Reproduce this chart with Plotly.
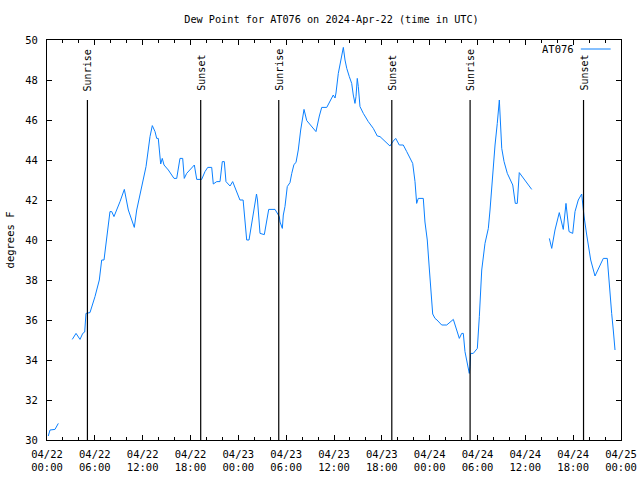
import plotly.graph_objects as go
from datetime import datetime, timedelta

START = datetime(2024, 4, 22, 0, 0)

# hours after 2024-04-22 00:00 UTC (None = gap in the record)
hours = [
    0.16, 0.38, 1.0, 1.42, None,
    3.17, 3.64, 4.14, 4.48, 4.73, 4.89, 5.39, 6.02, 6.56, 6.86, 7.15, 7.49, 7.9, 8.12, 8.4,
    9.16, 9.7, 10.2, 10.95, 11.25, 11.88, 12.42, 12.92, 13.21, 13.55, 13.76, 13.96, 14.26,
    14.46, 14.68, 15.22, 15.93, 16.27, 16.68, 17.02, 17.22, 17.52, 18.48, 18.78, 19.4,
    19.82, 20.16, 20.66, 20.86, 21.29, 21.7, 21.99, 22.24, 22.45, 22.96, 23.29, 23.8,
    24.2, 24.6, 24.84, 25.05, 25.34, 25.55, 25.88, 26.28, 26.4, 26.72, 27.26, 27.56,
    27.81, 28.6, 28.81, 29.14, 29.23, 29.52, 29.64, 29.85, 30.14, 30.48, 30.7, 30.98,
    31.23, 31.52, 31.82, 32.24, 32.58, 33.2, 33.74, 34.16, 34.46, 35.09, 35.5, 35.91,
    36.13, 36.25, 36.54, 36.97, 37.17, 37.38, 37.6, 37.92, 38.22, 38.42, 38.63, 38.76,
    38.92, 39.05, 39.26, 39.68, 40.3, 40.93, 41.43, 41.77, 42.4, 43.02, 43.44, 43.74,
    44.19, 44.69, 45.12, 45.87, 46.16, 46.37, 46.57, 47.2, 47.41, 47.7, 47.95, 48.17,
    48.38, 48.67, 48.92, 49.51, 50.14, 50.97, 51.31, 51.72, 52.02, 52.22, 52.43, 52.77,
    52.97, 53.06, 53.14, 53.47, 53.98, 54.23, 54.53, 54.94, 55.36, 55.57, 55.91, 56.2,
    56.48, 56.61, 56.74, 57.04, 57.33, 57.74, 58.42, 58.74, 58.99, 59.24, 59.75, 60.8,
    None,
    63.01, 63.31, 63.72, 64.26, 64.76, 65.1, 65.48, 65.94, 66.23, 66.64, 67.07, 67.2,
    67.36, 67.7, 68.2, 68.74, 69.37, 69.78, 70.28, 70.53, 70.83, 71.03, 71.25,
]

dew_point_f = [
    30.2, 30.5, 30.53, 30.83, None,
    35.03, 35.33, 35.03, 35.33, 35.4, 36.33, 36.37, 37.17, 38.0, 39.0, 39.0, 40.17, 41.42, 41.42, 41.17,
    41.92, 42.53, 41.5, 40.63, 41.5, 42.67, 43.67, 45.17, 45.72, 45.42, 45.08, 45.08, 43.8,
    44.08, 43.75, 43.5, 43.08, 43.08, 44.08, 44.08, 43.08, 43.33, 43.75, 43.03, 43.03,
    43.42, 43.63, 43.63, 42.8, 42.92, 42.92, 43.92, 43.92, 42.92, 42.7, 42.92, 42.37,
    42.0, 42.0, 40.67, 40.0, 40.0, 40.5, 41.5, 42.3, 42.0, 40.33, 40.27, 41.0,
    41.53, 41.53, 41.37, 41.17, 40.9, 40.58, 41.25, 41.67, 42.67, 42.87, 43.33, 43.78,
    43.87, 44.5, 45.5, 46.53, 45.97, 45.67, 45.42, 46.2, 46.63, 46.63, 46.92, 47.25,
    47.1, 47.35, 48.33, 49.17, 49.63, 49.0, 48.58, 48.17, 47.83, 47.25, 46.83, 47.17,
    48.08, 47.67, 46.67, 46.33, 45.92, 45.58, 45.2, 45.17, 44.92, 44.7, 44.95, 45.08,
    44.75, 44.75, 44.42, 43.83, 42.92, 41.83, 42.08, 42.08, 40.9, 40.0, 38.6, 37.17,
    36.3, 36.08, 36.0, 35.75, 35.75, 36.03, 35.58, 35.08, 35.33, 35.33, 34.42, 33.67,
    33.33, 33.67, 34.33, 34.33, 34.58, 36.17, 38.5, 39.83, 40.58, 41.5, 43.33, 44.75,
    45.83, 46.67, 47.0, 44.58, 43.92, 43.33, 42.75, 41.83, 41.83, 43.37, 43.08, 42.53,
    None,
    40.08, 39.58, 40.5, 41.37, 40.53, 41.83, 40.42, 40.33, 41.42, 42.0, 42.3, 41.75,
    41.2, 40.25, 39.0, 38.2, 38.75, 39.08, 39.08, 37.67, 36.33, 35.5, 34.5,
]

tick_hours = [0, 6, 12, 18, 24, 30, 36, 42, 48, 54, 60, 66, 72]
tick_labels = [
    "04/22<br>00:00", "04/22<br>06:00", "04/22<br>12:00", "04/22<br>18:00",
    "04/23<br>00:00", "04/23<br>06:00", "04/23<br>12:00", "04/23<br>18:00",
    "04/24<br>00:00", "04/24<br>06:00", "04/24<br>12:00", "04/24<br>18:00",
    "04/25<br>00:00",
]

sun_labels = ["Sunrise", "Sunset", "Sunrise", "Sunset", "Sunrise", "Sunset"]
sun_hours = [5.07, 19.28, 29.07, 43.25, 53.07, 67.3]

station = "AT076"
FONT = "DejaVu Sans Mono"
FS = 10.5
LINE_COLOR = "#0a80ff"


def to_time(h):
    return None if h is None else START + timedelta(hours=h)


times = [to_time(h) for h in hours]

fig = go.Figure()
fig.add_trace(go.Scatter(
    x=times, y=dew_point_f, mode="lines", name=station,
    line=dict(color=LINE_COLOR, width=1), connectgaps=False,
    showlegend=False,
))

for lbl, h in zip(sun_labels, sun_hours):
    t = to_time(h)
    fig.add_shape(type="line", xref="x", yref="y", x0=t, x1=t, y0=30, y1=47,
                  line=dict(color="black", width=1.2))
    fig.add_annotation(x=t, y=47.35, xref="x", yref="y", text=lbl, textangle=-90,
                       showarrow=False, xanchor="center", yanchor="bottom",
                       font=dict(family=FONT, size=10, color="black"))

# legend key (text then line sample, top right)
fig.add_annotation(x=0.922, y=49.55, xref="paper", yref="y", text=station,
                   showarrow=False, xanchor="right", yanchor="middle",
                   font=dict(family=FONT, size=FS, color="black"))
fig.add_shape(type="line", xref="paper", yref="y", x0=0.93, x1=0.982, y0=49.55, y1=49.55,
              line=dict(color=LINE_COLOR, width=1))

fig.update_layout(
    width=640, height=480,
    margin=dict(l=47, r=19, t=40, b=40, autoexpand=False),
    paper_bgcolor="white", plot_bgcolor="white",
    font=dict(family=FONT, size=FS, color="black"),
    title=dict(text="Dew Point for AT076 on 2024-Apr-22 (time in UTC)",
               x=0.518, xanchor="center", y=0.96, yanchor="middle",
               font=dict(family=FONT, size=10.2, color="black")),
    showlegend=False,
)

fig.update_xaxes(
    type="date", automargin=False,
    range=[to_time(0), to_time(72)],
    tickvals=[to_time(h) for h in tick_hours], ticktext=tick_labels,
    ticks="inside", ticklen=5, tickcolor="black", tickwidth=1,
    minor=dict(dtick=2 * 3600 * 1000, ticks="inside", ticklen=3, tickcolor="black"),
    showline=True, linecolor="black", linewidth=1, mirror="ticks",
    showgrid=False, zeroline=False,
    tickfont=dict(family=FONT, size=FS),
    ticklabelstandoff=4,
)
fig.update_yaxes(
    automargin=False,
    range=[30, 50], tickvals=list(range(30, 51, 2)),
    ticks="inside", ticklen=5, tickcolor="black", tickwidth=1,
    showline=True, linecolor="black", linewidth=1, mirror="ticks",
    showgrid=False, zeroline=False,
    tickfont=dict(family=FONT, size=FS),
    ticklabelstandoff=6,
    title=dict(text="degrees F", font=dict(family=FONT, size=FS), standoff=8),
)

fig.write_html("out.html")
